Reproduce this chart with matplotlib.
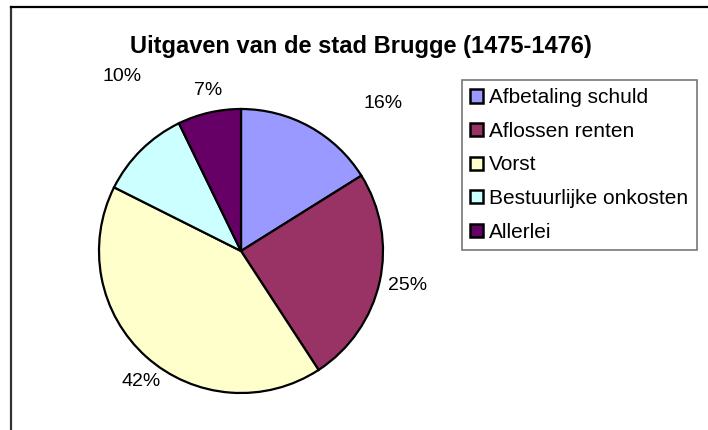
import matplotlib
matplotlib.use('Agg')
import matplotlib.pyplot as plt
from matplotlib.lines import Line2D

# Data
categories = ['Afbetaling schuld', 'Aflossen renten', 'Vorst', 'Bestuurlijke onkosten', 'Allerlei']
shares = [16.1, 24.7, 41.6, 10.4, 7.2]
colors = ['#9999FF', '#993366', '#FFFFCC', '#CCFFFF', '#660066']
title = 'Uitgaven van de stad Brugge (1475-1476)'

plt.rcParams['font.family'] = ['Liberation Sans', 'DejaVu Sans']

W, H = 708, 430
fig = plt.figure(figsize=(W / 100, H / 100), dpi=100)

# pie axes: centre at (241, 251) px from top-left, radius 142 px
cx, cy, r = 241, 251, 142
ax_w = 470
ax = fig.add_axes([0, 0, ax_w / W, 1])
ax.axis('off')

wedges, texts, autotexts = ax.pie(
    shares, colors=colors, startangle=90, counterclock=False,
    radius=1, autopct='%.0f%%', pctdistance=1.17,
    wedgeprops=dict(edgecolor='black', linewidth=1.6),
    textprops=dict(fontsize=14, color='black'))
ax.set_aspect('auto')
ax.set_xlim(-cx / r, (ax_w - cx) / r)
ax.set_ylim(-(H - cy) / r, cy / r)

# label placement like the original (Excel put some labels further out)
label_pos = [(1.0, 1.04), (1.17, -0.24), (-0.70, -0.92), (-0.84, 1.23), (-0.23, 1.13)]
for t, p in zip(autotexts, label_pos):
    t.set_position(p)
    t.set_ha('center')
    t.set_va('center')

fig.text(361 / W, 1 - 47 / H, title, ha='center', va='center',
         fontsize=17, fontweight='bold')

leg = fig.legend(wedges, categories, loc='upper left',
                 bbox_to_anchor=(462 / W, 1 - 80 / H),
                 fontsize=15, frameon=True, fancybox=False,
                 edgecolor='#555555', handlelength=0.6, handleheight=0.6,
                 handletextpad=0.3, labelspacing=0.7, borderpad=0.4,
                 borderaxespad=0)
leg.get_frame().set_linewidth(1.2)
for h in leg.legend_handles:
    h.set_linewidth(1.8)

# chart area border (top and left edges visible in the crop)
fig.add_artist(Line2D([11 / W, 11 / W], [0, 1 - 7 / H], color='#333333', lw=1.6))
fig.add_artist(Line2D([11 / W, 1], [1 - 7 / H, 1 - 7 / H], color='black', lw=1.6))

fig.savefig('out.png', dpi=100)
